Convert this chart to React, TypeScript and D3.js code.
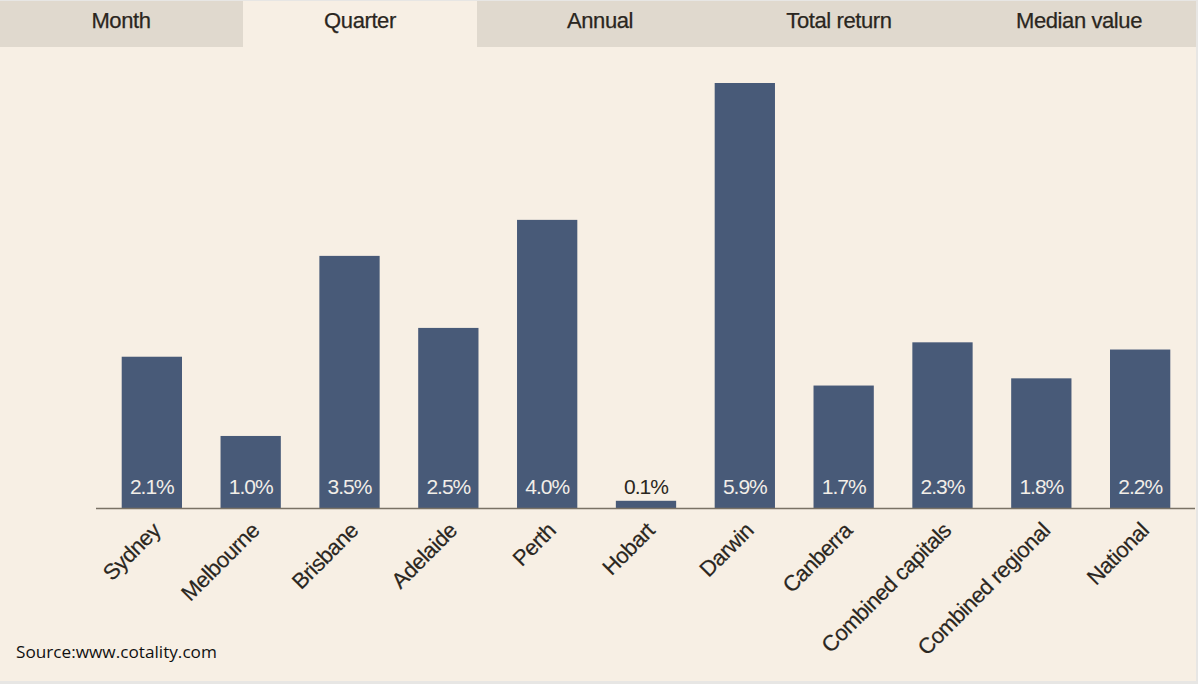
import React from "react";
import * as d3 from "d3";

const categories = ["Sydney", "Melbourne", "Brisbane", "Adelaide", "Perth", "Hobart", "Darwin", "Canberra", "Combined capitals", "Combined regional", "National"];
const values = [2.1, 1.0, 3.5, 2.5, 4.0, 0.1, 5.9, 1.7, 2.3, 1.8, 2.2];
const tabs = ["Month", "Quarter", "Annual", "Total return", "Median value"];
const activeTab = "Quarter";
const source = "Source:www.cotality.com";

const W = 1198;
const H = 684;
const FONT = "'Liberation Sans', Arial, sans-serif";

export default function App() {
  const x = d3.scaleBand<string>().domain(categories).range([97, 1195]).paddingInner(0.39).paddingOuter(0.25);
  const y = d3.scaleLinear().domain([0, 5.9]).range([508, 83]);
  const tabCenters = [121, 360, 600, 839, 1079];
  const tabEdges = [0, 243, 477, 711, 945, 1196];
  return (
    <svg width={W} height={H} style={{ position: "absolute", left: 0, top: 0, display: "block" }}>
      <rect x={0} y={0} width={W} height={H} fill="#E7E6E4" />
      <rect x={0} y={1} width={1196} height={680} fill="#F7EFE4" />
      {tabs.map((t, i) => (
        t === activeTab ? null : (
          <rect key={"tb" + i} x={tabEdges[i]} y={1} width={tabEdges[i + 1] - tabEdges[i]} height={46} fill="#E0D9CE" />
        )
      ))}
      {tabs.map((t, i) => (
        <text key={"tt" + i} x={tabCenters[i]} y={28} textAnchor="middle"
          fontFamily={FONT} fontSize={22} letterSpacing={-0.4} fill="#2A2620" stroke="#2A2620" strokeWidth={0.25}>{t}</text>
      ))}
      {categories.map((c, i) => (
        <rect key={"b" + c} x={x(c)} y={y(values[i])} width={x.bandwidth()} height={y(0) - y(values[i])} fill="#485A78" />
      ))}
      <line x1={96} x2={1195} y1={508.5} y2={508.5} stroke="#7A7265" strokeWidth={1.5} />
      {categories.map((c, i) => {
        const cx = (x(c) as number) + x.bandwidth() / 2;
        const inside = y(0) - y(values[i]) > 30;
        return (
          <text key={"v" + c} x={cx} y={494} textAnchor="middle"
            fontFamily={FONT} fontSize={21} letterSpacing={-1} fill={inside ? "#F2EEE8" : "#2A2620"}>
            {values[i].toFixed(1) + "%"}
          </text>
        );
      })}
      {categories.map((c) => {
        const cx = (x(c) as number) + x.bandwidth() / 2 + 10;
        return (
          <text key={"l" + c} transform={`translate(${cx},${532}) rotate(-45)`} textAnchor="end"
            fontFamily={FONT} fontSize={22} letterSpacing={-0.5} fill="#2A2620" stroke="#2A2620" strokeWidth={0.2}>{c}</text>
        );
      })}
      <text x={16} y={658} fontFamily="'Open Sans', 'Noto Sans', sans-serif" fontSize={17.2} fill="#111">{source}</text>
    </svg>
  );
}
